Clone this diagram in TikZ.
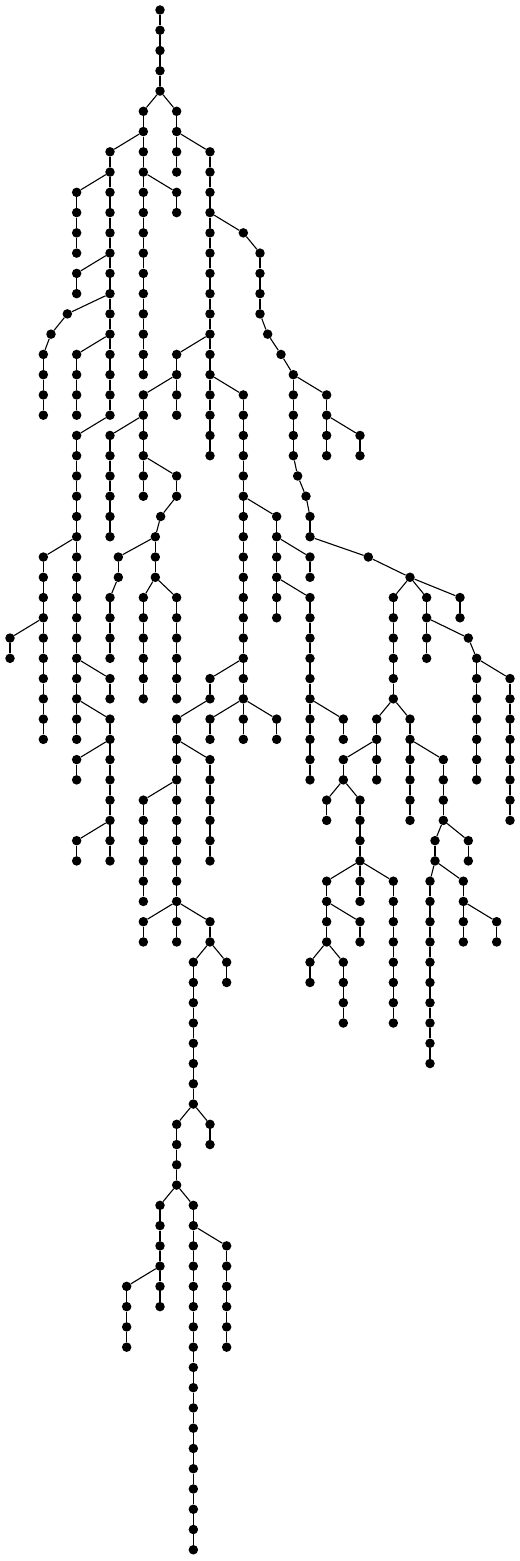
\documentclass[tikz,border=0pt]{standalone}
\usepackage{tikz}

\begin{document}
\begin{tikzpicture}[x=33.333pt, y=-20.26pt,
  dot/.style={circle, fill=black, inner sep=0pt, minimum size=9.5pt},
  edge/.style={line width=1.1pt}]
\useasboundingbox (-0.3,-0.4936) rectangle (15.3,76.555);

\node[dot] (t0) at (4.5,0) {};

% name/parent/column/first level/last level
\foreach \nm/\src/\cx/\lo/\hi in {
  t/t0/4.5/1/4, a/t4/4/5/18, b/t4/5/5/8, c/a6/3/7/20,
  d/c8/2/9/12, e/c12/2/13/14, f/c14/1.72/15/15, f/f15/1.23/16/16,
  f/f16/1/17/20, g/c16/2/17/20, h/a8/5/9/10,
  k/c20/2/21/36, ka/k26/1/27/36, kb/ka30/0/31/32, kc/k32/3/33/34,
  kd/k34/3/35/42, ke/kd36/2/37/38, kf/kd40/2/41/42,
  m/b6/6/7/22, p/m16/5/17/20, q/p18/4/19/24, w/q20/3/21/26,
  x/q22/5/23/24, x/x24/4.52/25/25, x/x25/4.36/26/28,
  y/x26/3.25/27/28, y/y28/3/29/32, z/x28/4/29/34, v/x28/5/29/34,
  n/m18/7/19/36, na/n24/8/25/30, nb/na26/9/27/28, nc/na28/9/29/38,
  nd/nc34/10/35/36, ne/n32/6/33/34, ne/ne34/5/35/46,
  nf/ne36/6/37/42, ng/ne38/4/39/44, nh/ne44/4/45/46, ni/ne44/6/45/46,
  nj/ni46/5.5/47/54, nk/ni46/6.5/47/48, nl/nj54/5/55/58, nm/nj54/6/55/56,
  nn/nl58/4.5/59/64, no/nn62/3.5/63/66, np/nl58/5.5/59/76, nq/np60/6.5/61/66,
  nr/n34/6/35/36, ns/n34/8/35/36,
  r/m10/7/11/11, r/r11/7.5/12/15, r/r15/7.73/16/16, r/r16/8.13/17/17,
  r/r17/8.5/18/22, r/r22/8.63/23/23, r/r23/8.88/24/24, r/r24/9/25/26,
  r/r26/10.75/27/27, r/r27/12/28/28,
  s/r18/9.5/19/22, u/s20/10.5/21/22,
  ra/r28/11.5/29/34, rb/r28/12.5/29/32, rc/r28/13.5/29/30,
  rd/rb30/13.75/31/31, rd/rd31/14/32/38, re/rd32/15/33/40,
  rf/ra34/11/35/38, rg/rf36/10/37/38, rh/rg38/9.5/39/40, ri/rg38/10.5/39/44,
  rj/ri42/9.5/43/46, rk/rj44/10.5/45/46, rl/rj46/9/47/48, rm/rj46/10/47/50,
  rn/ri42/11.5/43/50, ro/ra34/12/35/40, rp/ro36/13/37/40,
  rq/rp40/12.75/41/42, rr/rq42/12.6/43/52, rs/rq42/13.6/43/46,
  rt/rs44/14.6/45/46, ru/rp40/13.75/41/42}{
  \foreach \l in {\lo,...,\hi}{
    \ifnum\l=\lo \edef\pre{\src}\else \pgfmathtruncatemacro\lp{\l-1}\edef\pre{\nm\lp}\fi
    \node[dot] (\nm\l) at (\cx,\l) {};
    \draw[edge] (\pre) -- (\nm\l);
  }
}
\end{tikzpicture}
\end{document}
